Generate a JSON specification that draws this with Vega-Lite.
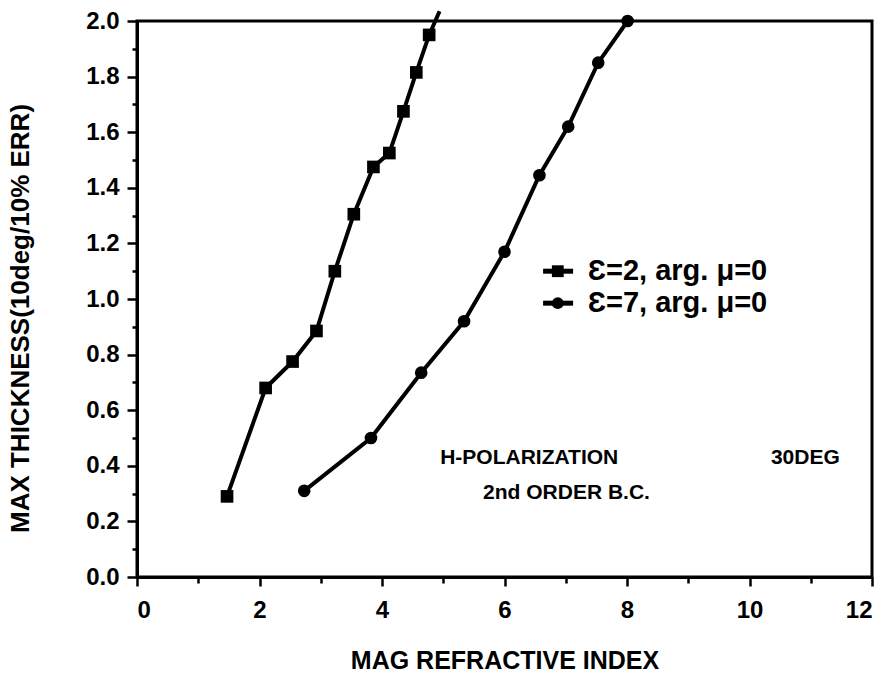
{
  "$schema": "https://vega.github.io/schema/vega-lite/v6.json",
  "width": 735,
  "height": 556,
  "autosize": {"type": "none"},
  "padding": {"left": 137, "top": 21, "right": 17, "bottom": 99},
  "background": "white",
  "config": {
    "view": {"stroke": "black", "strokeWidth": 3},
    "axis": {
      "domainColor": "black", "domainWidth": 3,
      "tickColor": "black", "tickWidth": 2.5,
      "labelFont": "Liberation Sans", "labelFontWeight": "bold", "labelFontSize": 24, "labelColor": "black",
      "titleFont": "Liberation Sans", "titleFontWeight": "bold", "titleFontSize": 25, "titleColor": "black",
      "grid": false
    },
    "text": {"font": "Liberation Sans", "color": "black"}
  },
  "datasets": {
    "curves": [
      {"series": "e2", "x": 1.47, "y": 0.29, "marker": true},
      {"series": "e2", "x": 2.10, "y": 0.68, "marker": true},
      {"series": "e2", "x": 2.54, "y": 0.775, "marker": true},
      {"series": "e2", "x": 2.93, "y": 0.885, "marker": true},
      {"series": "e2", "x": 3.23, "y": 1.10, "marker": true},
      {"series": "e2", "x": 3.54, "y": 1.305, "marker": true},
      {"series": "e2", "x": 3.86, "y": 1.475, "marker": true},
      {"series": "e2", "x": 4.12, "y": 1.525, "marker": true},
      {"series": "e2", "x": 4.35, "y": 1.675, "marker": true},
      {"series": "e2", "x": 4.56, "y": 1.815, "marker": true},
      {"series": "e2", "x": 4.77, "y": 1.95, "marker": true},
      {"series": "e2", "x": 4.94, "y": 2.035, "marker": false},
      {"series": "e7", "x": 2.73, "y": 0.31, "marker": true},
      {"series": "e7", "x": 3.82, "y": 0.50, "marker": true},
      {"series": "e7", "x": 4.64, "y": 0.735, "marker": true},
      {"series": "e7", "x": 5.34, "y": 0.92, "marker": true},
      {"series": "e7", "x": 6.00, "y": 1.17, "marker": true},
      {"series": "e7", "x": 6.57, "y": 1.445, "marker": true},
      {"series": "e7", "x": 7.04, "y": 1.62, "marker": true},
      {"series": "e7", "x": 7.53, "y": 1.85, "marker": true},
      {"series": "e7", "x": 8.01, "y": 2.0, "marker": true}
    ],
    "legendLines": [
      {"series": "e2", "x": 6.63, "x2": 7.12, "y": 1.1},
      {"series": "e7", "x": 6.63, "x2": 7.12, "y": 0.985}
    ],
    "legendMarks": [
      {"series": "e2", "x": 6.87, "y": 1.1},
      {"series": "e7", "x": 6.87, "y": 0.985}
    ],
    "legendText": [
      {"x": 7.36, "y": 1.1, "label": "Ɛ=2, arg. μ=0"},
      {"x": 7.36, "y": 0.985, "label": "Ɛ=7, arg. μ=0"}
    ],
    "notes": [
      {"x": 4.95, "y": 0.428, "label": "H-POLARIZATION"},
      {"x": 10.35, "y": 0.428, "label": "30DEG"},
      {"x": 5.65, "y": 0.302, "label": "2nd ORDER B.C."}
    ]
  },
  "encoding": {
    "x": {
      "field": "x", "type": "quantitative",
      "scale": {"domain": [0, 12], "nice": false, "zero": false},
      "axis": {
        "title": "MAG REFRACTIVE INDEX",
        "values": [0, 1, 2, 3, 4, 5, 6, 7, 8, 9, 10, 11, 12],
        "labelExpr": "datum.value % 2 === 0 ? datum.label : ''",
        "tickSize": {"condition": {"test": "datum.value % 2 === 0", "value": 9}, "value": 6},
        "labelPadding": 12,
        "titlePadding": 26
      }
    },
    "y": {
      "field": "y", "type": "quantitative",
      "scale": {"domain": [0, 2], "nice": false, "zero": false},
      "axis": {
        "title": "MAX THICKNESS(10deg/10% ERR)",
        "titleFontSize": 26,
        "values": [0, 0.1, 0.2, 0.3, 0.4, 0.5, 0.6, 0.7, 0.8, 0.9, 1.0, 1.1, 1.2, 1.3, 1.4, 1.5, 1.6, 1.7, 1.8, 1.9, 2.0],
        "labelExpr": "round(datum.value * 10) % 2 === 0 ? format(datum.value, '.1f') : ''",
        "tickSize": {"condition": {"test": "round(datum.value * 10) % 2 === 0", "value": 10}, "value": 5},
        "labelPadding": 8,
        "titlePadding": 52,
        "titleY": 297
      }
    }
  },
  "layer": [
    {
      "data": {"name": "curves"},
      "mark": {"type": "line", "color": "black", "strokeWidth": 4},
      "encoding": {"detail": {"field": "series"}}
    },
    {
      "data": {"name": "curves"},
      "transform": [{"filter": "datum.marker"}],
      "mark": {"type": "point", "filled": true, "color": "black", "opacity": 1, "size": 160},
      "encoding": {
        "shape": {"field": "series", "type": "nominal", "scale": {"domain": ["e2", "e7"], "range": ["square", "circle"]}, "legend": null}
      }
    },
    {
      "data": {"name": "legendLines"},
      "mark": {"type": "rule", "color": "black", "strokeWidth": 5},
      "encoding": {"x2": {"field": "x2"}}
    },
    {
      "data": {"name": "legendMarks"},
      "mark": {"type": "point", "filled": true, "color": "black", "opacity": 1, "size": 140},
      "encoding": {
        "shape": {"field": "series", "type": "nominal", "legend": null}
      }
    },
    {
      "data": {"name": "legendText"},
      "mark": {"type": "text", "align": "left", "baseline": "middle", "fontSize": 29, "fontWeight": "bold"},
      "encoding": {"text": {"field": "label"}}
    },
    {
      "data": {"name": "notes"},
      "mark": {"type": "text", "align": "left", "baseline": "middle", "fontSize": 21, "fontWeight": "bold"},
      "encoding": {"text": {"field": "label"}}
    }
  ]
}
